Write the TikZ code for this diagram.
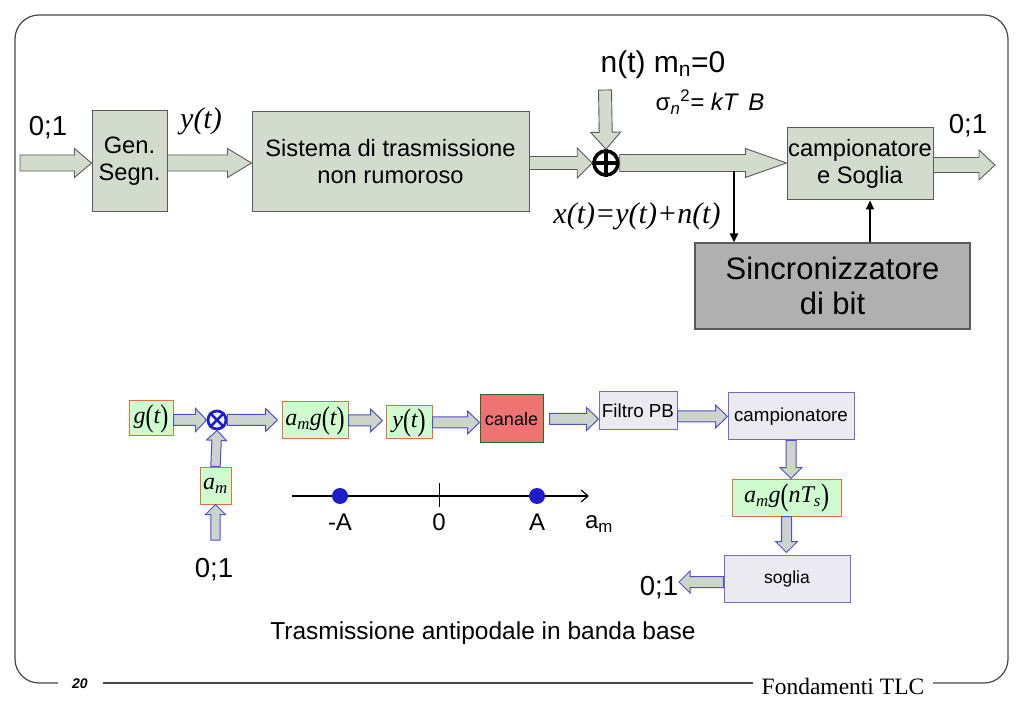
\documentclass[tikz,border=0pt]{standalone}
\usepackage{fontspec}
\setmainfont{Liberation Sans}
\newfontfamily\tms{Liberation Serif}
\usetikzlibrary{calc,arrows.meta}
\newcommand\fs[2]{\fontsize{#1}{#2}\selectfont}
\newcommand\TI[1]{{\tms\itshape #1}}
\newcommand\BP[1]{\raisebox{-0.1em}{\scalebox{1}[1.3]{\tms #1}}}
\definecolor{tfill}{RGB}{211,219,205}
\definecolor{tbord}{RGB}{90,90,90}
\definecolor{sfill}{RGB}{176,176,176}
\definecolor{gfill}{RGB}{206,252,206}
\definecolor{gbord}{RGB}{230,110,60}
\definecolor{rfill}{RGB}{240,115,115}
\definecolor{rbord}{RGB}{50,100,40}
\definecolor{pfill}{RGB}{234,234,240}
\definecolor{pbord}{RGB}{110,110,200}
\definecolor{afill}{RGB}{204,212,204}
\definecolor{ablue}{RGB}{80,80,200}
\definecolor{dblue}{RGB}{30,30,200}
\definecolor{frm}{RGB}{70,70,70}
% fat block arrow: style, from, to, body half, head half, head length
\newcommand\fatarrow[6]{%
  \coordinate (faA) at (#2);
  \coordinate (faB) at (#3);
  \coordinate (faH) at ($(faB)!#6!(faA)$);
  \draw[#1] ($(faA)!#4!90:(faB)$) -- ($(faH)!#4!-90:(faA)$) -- ($(faH)!#5!-90:(faA)$) -- (faB)
    -- ($(faH)!#5!90:(faA)$) -- ($(faH)!#4!90:(faA)$) -- ($(faA)!#4!-90:(faB)$) -- cycle;
}
\begin{document}
\begin{tikzpicture}[x=1pt,y=-1pt,
  topbox/.style={draw=tbord, fill=tfill, line width=1pt, inner sep=0pt, align=center, font=\fs{23.7}{27}},
  syncbox/.style={draw=tbord, fill=sfill, line width=1.2pt, inner sep=0pt, align=center, font=\fs{31}{35}},
  tarrow/.style={draw=tbord, fill=tfill, line width=0.9pt, line join=miter},
  greenbox/.style={draw=gbord, fill=gfill, line width=1pt, inner sep=0pt, font=\fs{24}{28}},
  redbox/.style={draw=rbord, fill=rfill, line width=1pt, inner sep=0pt, font=\fs{18}{22}},
  greybox/.style={draw=pbord, fill=pfill, line width=1pt, inner sep=0pt, font=\fs{18.8}{22}},
  barrow/.style={draw=ablue, fill=afill, line width=1pt, line join=miter},
  lbl/.style={inner sep=0pt, font=\fs{27.5}{32}},
  thinarr/.style={line width=2pt, -{Triangle[length=9pt,width=8pt]}},
  dot/.style={circle, fill=dblue, minimum size=16pt, inner sep=0pt}
]
\useasboundingbox (0,0) rectangle (1023,708);
% frame
\draw[frm, line width=1.2pt, rounded corners=24pt] (58,683) -- (15,683) -- (15,15) -- (1008,15) -- (1008,683) -- (933,683);
\draw[frm, line width=1.2pt] (103,683) -- (753,683);
\node[inner sep=0pt, font=\fs{14}{16}\bfseries\itshape] (pg) at (80,684) {20};
\node[inner sep=0pt, font=\tms\fs{23.5}{26}] (ft) at (843,686) {Fondamenti TLC};

% ---------- top diagram ----------
\node[lbl] (in1) at (48,128) {0;1};
\coordinate (inS) at (20,163);
\node[topbox, minimum width=75pt, minimum height=101pt] (gen) at (129.5,161) {Gen.\\Segn.};
\node[inner sep=0pt, font=\tms\itshape\fs{30}{34}] (ylab) at (201,121) {y(t)};
\node[topbox, minimum width=277pt, minimum height=100pt] (sis) at (390.5,162) {Sistema di trasmissione\\non rumoroso};
\node[circle, draw, line width=3.5pt, minimum size=24pt, inner sep=0pt] (opl) at (606,163) {};
\draw[line width=3.5pt] (opl.north) -- (opl.south) (opl.west) -- (opl.east);
\node[inner sep=0pt, font=\fs{30}{34}] (nt) at (663,65) {n(t) m\textsubscript{n}=0};
\node[inner sep=0pt, font=\fs{24}{28}] (sig) at (710,102) {σ\textsubscript{\itshape n}\textsuperscript{2}\textit{= kT\, B}};
\node[topbox, minimum width=146pt, minimum height=72pt] (camp) at (860,164) {campionatore\\e Soglia};
\node[lbl] (out1) at (968,126) {0;1};
\coordinate (outE) at (995,165);
\node[syncbox, minimum width=275pt, minimum height=86pt] (sync) at (832.5,286) {Sincronizzatore\\di bit};
\node[inner sep=0pt, font=\tms\itshape\fs{30}{34}] (xlab) at (637,216) {x(t)=y(t)+n(t)};
\coordinate (ntop) at (605,90);
\coordinate (tap) at (734,171);
\coordinate (s2) at (870,0);

\fatarrow{tarrow}{inS}{inS -| gen.west}{8pt}{14.5pt}{17pt}
\fatarrow{tarrow}{gen.east |- inS}{inS -| sis.west}{8pt}{14.5pt}{24pt}
\fatarrow{tarrow}{sis.east |- opl.west}{opl.west}{6.5pt}{15pt}{15pt}
\fatarrow{tarrow}{ntop}{opl.north}{6.5pt}{15pt}{17pt}
\fatarrow{tarrow}{opl.east}{opl.east -| camp.west}{8.5pt}{14.5pt}{41pt}
\fatarrow{tarrow}{camp.east |- outE}{outE}{7.5pt}{15pt}{16pt}
\draw[thinarr] (tap) -- (tap |- sync.north);
\draw[thinarr] (s2 |- sync.north) -- (s2 |- camp.south);

% ---------- bottom diagram ----------
\node[greenbox, minimum width=44pt, minimum height=35pt] (gt) at (151,418.5) {\TI{g}\BP{(}\TI{t}\BP{)}};
\node[circle, draw=dblue, line width=2.8pt, minimum size=18pt, inner sep=0pt] (ot) at (217,420) {};
\draw[dblue, line width=2.8pt] (ot.north east) -- (ot.south west) (ot.north west) -- (ot.south east);
\node[greenbox, minimum width=66pt, minimum height=37pt] (amg) at (315,420.5) {\TI{a}\textsubscript{\TI{m}}\TI{g}\BP{(}\TI{t}\BP{)}};
\node[greenbox, minimum width=46pt, minimum height=33pt] (yt) at (409,422.5) {\TI{y}\BP{(}\TI{t}\BP{)}};
\node[redbox, minimum width=63pt, minimum height=48pt] (can) at (511.5,419) {canale};
\node[greybox, minimum width=78pt, minimum height=38pt] (fil) at (638,411) {Filtro PB};
\node[greybox, minimum width=126pt, minimum height=47pt] (campb) at (791,416.5) {campionatore};
\node[greenbox, minimum width=109pt, minimum height=37pt] (amgn) at (786.5,497.5) {\TI{a}\textsubscript{\TI{m}}\TI{g}\BP{(}\TI{nT}\textsubscript{\TI{s}}\BP{)}};
\node[greybox, minimum width=126pt, minimum height=47pt, font=\fs{17.5}{21}] (sog) at (787,578.5) {soglia};
\node[greenbox, minimum width=31pt, minimum height=37pt] (am) at (215.5,485.5) {\TI{a}\textsubscript{\TI{m}}};
\node[lbl] (in2) at (214,570) {0;1};
\node[lbl] (out2) at (659,588) {0;1};
\coordinate (amin) at (215.5,540);
\coordinate (o2) at (679,582);

\fatarrow{barrow}{gt.east |- ot.west}{ot.west}{5.5pt}{11.5pt}{11pt}
\fatarrow{barrow}{ot.east}{$(ot.east -| amg.west)+(-4,0)$}{5.5pt}{11.5pt}{12pt}
\fatarrow{barrow}{amg.east}{$(amg.east -| yt.west)+(-3,0)$}{5.5pt}{11.5pt}{12pt}
\fatarrow{barrow}{yt.east}{yt.east -| can.west}{5.5pt}{11.5pt}{12pt}
\fatarrow{barrow}{$(can.east)+(6,0)$}{can.east -| fil.west}{5.5pt}{11.5pt}{12pt}
\fatarrow{barrow}{fil.east |- campb.west}{campb.west}{5.5pt}{11.5pt}{12pt}
\fatarrow{barrow}{campb.south}{campb.south |- amgn.north}{5pt}{11pt}{11pt}
\fatarrow{barrow}{amgn.south}{$(amgn.south |- sog.north)+(0,-2)$}{5pt}{11pt}{11pt}
\fatarrow{barrow}{sog.west |- o2}{o2}{5.5pt}{11pt}{11pt}
\fatarrow{barrow}{am.north}{ot.south}{4.7pt}{10pt}{10pt}
\fatarrow{barrow}{amin}{am.south}{4.7pt}{10pt}{10pt}

% axis
\coordinate (ax0) at (292,496);
\coordinate (ax1) at (589,496);
\draw[line width=1.2pt, -{Straight Barb[length=7pt,width=12pt]}] (ax0) -- (ax1);
\draw[line width=1pt] (439,483) -- (439,507);
\node[dot] (dA1) at (340,496) {};
\node[dot] (dA2) at (537,496) {};
\node[inner sep=0pt, font=\fs{24}{28}] (lA1) at (340,522) {-A};
\node[inner sep=0pt, font=\fs{24}{28}] (l0) at (439,522) {0};
\node[inner sep=0pt, font=\fs{24}{28}] (lA2) at (537,522) {A};
\node[inner sep=0pt, font=\fs{24}{28}] (lam) at (599,524) {a\textsubscript{m}};
\node[inner sep=0pt, font=\fs{24.5}{28}] (title) at (483,633) {Trasmissione antipodale in banda base};
\end{tikzpicture}
\end{document}
